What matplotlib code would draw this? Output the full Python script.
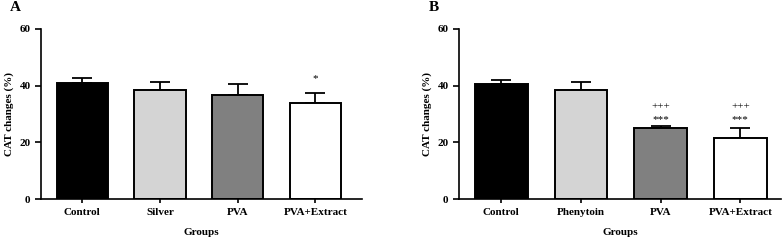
import numpy as np
import matplotlib
matplotlib.use("Agg")
import matplotlib.pyplot as plt

plt.rcParams['font.family'] = ['Liberation Serif', 'DejaVu Serif']
plt.rcParams['font.weight'] = 'bold'

groups_a = ['Control', 'Silver', 'PVA', 'PVA+Extract']
means_a = [41.1, 38.5, 36.8, 34.0]
errs_a = [1.5, 2.8, 3.9, 3.3]
marks_a = ['', '', '', '*']

groups_b = ['Control', 'Phenytoin', 'PVA', 'PVA+Extract']
means_b = [40.7, 38.5, 24.9, 21.7]
errs_b = [1.2, 2.8, 1.0, 3.4]
marks_b = ['', '', '***', '***']
marks_b2 = ['', '', '+++', '+++']

colors = ['#000000', '#d4d4d4', '#808080', '#ffffff']

fig = plt.figure(figsize=(7.82, 2.41), dpi=100)
ax_a = fig.add_axes([0.0524, 0.174, 0.4106, 0.706])
ax_b = fig.add_axes([0.587, 0.174, 0.4117, 0.706])


def draw(ax, groups, means, errs, xlim):
    x = np.arange(len(groups))
    ax.bar(x, means, width=0.66, color=colors, edgecolor='black', linewidth=1.4, zorder=2)
    ax.errorbar(x, means, yerr=[np.zeros(len(errs)), errs], fmt='none',
                ecolor='black', elinewidth=1.3, capsize=7, capthick=1.3, zorder=1)
    ax.set_ylim(0, 60)
    ax.set_yticks([0, 20, 40, 60])
    ax.set_xlim(*xlim)
    ax.set_xticks(x)
    ax.set_xticklabels(groups, fontsize=8, fontweight='bold')
    ax.tick_params(axis='y', labelsize=8, width=1.2, length=4)
    ax.tick_params(axis='x', width=1.2, length=3)
    for lab in ax.get_yticklabels():
        lab.set_fontweight('bold')
    for s in ['top', 'right']:
        ax.spines[s].set_visible(False)
    for s in ['left', 'bottom']:
        ax.spines[s].set_linewidth(1.2)
    ax.set_ylabel('CAT changes (%)', fontsize=8, fontweight='bold')
    ax.set_xlabel('Groups', fontsize=8, fontweight='bold', labelpad=8)
    return x


xa = draw(ax_a, groups_a, means_a, errs_a, (-0.53, 3.6))
for xi, m, e, t in zip(xa, means_a, errs_a, marks_a):
    if t:
        ax_a.text(xi, m + e + 5.3, t, ha='center', va='center', fontsize=8, fontweight='normal')

xb = draw(ax_b, groups_b, means_b, errs_b, (-0.53, 3.51))
for xi, t, t2 in zip(xb, marks_b, marks_b2):
    if t:
        ax_b.text(xi, 28.0, t, ha='center', va='center', fontsize=8, fontweight='normal')
        ax_b.text(xi, 32.5, t2, ha='center', va='center', fontsize=8, fontweight='normal')

fig.text(0.012, 0.995, 'A', fontsize=11, fontweight='bold', va='top')
fig.text(0.548, 0.995, 'B', fontsize=11, fontweight='bold', va='top')

fig.savefig('out.png', dpi=100)
